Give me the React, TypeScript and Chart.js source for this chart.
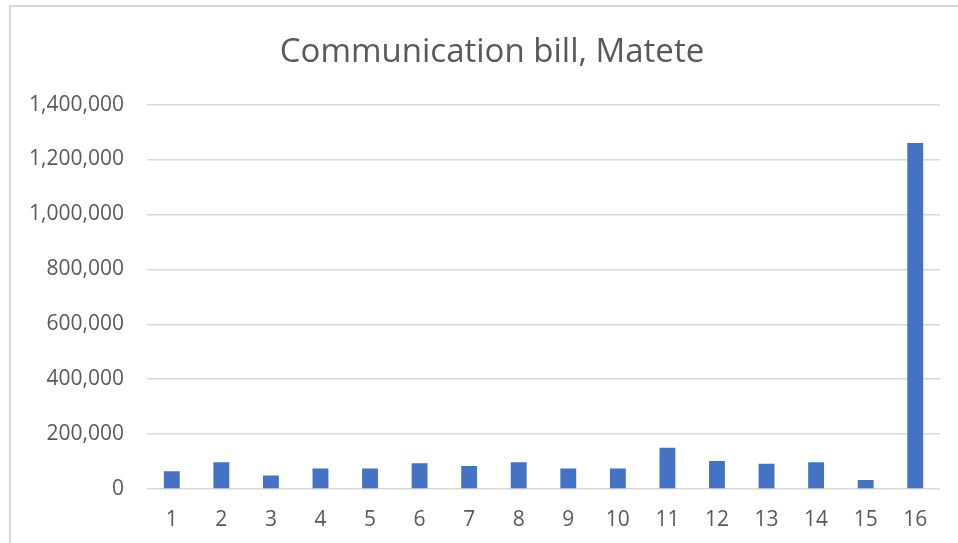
import React, { useEffect, useRef } from "react";
import { Chart, registerables } from "chart.js";

Chart.register(...registerables);

const categories: string[] = ["1", "2", "3", "4", "5", "6", "7", "8", "9", "10", "11", "12", "13", "14", "15", "16"];
const billValues: number[] = [65000, 97000, 49000, 75000, 75000, 94000, 84000, 97000, 75000, 75000, 150000, 102000, 92000, 97000, 33000, 1260000];
const chartTitle = "Communication bill, Matete";

const FONT = "'Open Sans', 'Noto Sans', sans-serif";
const TEXT = "#595959";
const GRID = "#d9d9d9";

const framePlugin = {
  id: "frame",
  afterLayout(chart: any) {
    const t = chart.titleBlock;
    if (t) {
      t.left = 44;
      t.width = t.right - t.left;
    }
  },
  beforeDraw(chart: any) {
    const ctx = chart.ctx;
    ctx.save();
    ctx.fillStyle = "#ffffff";
    ctx.fillRect(0, 0, chart.width, chart.height);
    ctx.strokeStyle = GRID;
    ctx.lineWidth = 2;
    ctx.beginPath();
    ctx.moveTo(10, chart.height + 5);
    ctx.lineTo(10, 6);
    ctx.lineTo(chart.width + 5, 6);
    ctx.stroke();
    ctx.restore();
  },
};

export default function App() {
  const ref = useRef<HTMLCanvasElement | null>(null);

  useEffect(() => {
    if (!ref.current) return;
    const chart = new Chart(ref.current, {
      type: "bar",
      data: {
        labels: categories,
        datasets: [
          {
            data: billValues,
            backgroundColor: "#4472C4",
            borderWidth: 0,
            barPercentage: 0.32,
            categoryPercentage: 1,
          },
        ],
      },
      plugins: [framePlugin],
      options: {
        responsive: false,
        animation: false,
        layout: { padding: { left: 10, right: 18, top: 0, bottom: 0 } },
        plugins: {
          legend: { display: false },
          tooltip: { enabled: false },
          title: {
            display: true,
            text: chartTitle,
            color: TEXT,
            font: { family: FONT, size: 33, weight: "normal" },
            padding: { top: 33, bottom: 32 },
          },
        },
        scales: {
          x: {
            grid: { display: false, drawTicks: false },
            border: { display: false },
            ticks: {
              color: TEXT,
              font: { family: FONT, size: 21 },
              padding: 18,
              maxRotation: 0,
            },
            afterFit: (scale: any) => {
              scale.height = 54;
            },
          },
          y: {
            min: 0,
            max: 1400000,
            grid: { color: GRID, lineWidth: 1.5, drawTicks: false },
            border: { display: false },
            ticks: {
              stepSize: 200000,
              color: TEXT,
              font: { family: FONT, size: 21 },
              padding: 23,
              callback: (v: any) => Number(v).toLocaleString("en-US"),
            },
            afterFit: (scale: any) => {
              scale.width = 137;
            },
          },
        },
      },
    });
    return () => chart.destroy();
  }, []);

  return (
    <div style={{ position: "fixed", left: 0, top: 0, width: 958, height: 543 }}>
      <canvas ref={ref} width={958} height={543} style={{ display: "block" }} />
    </div>
  );
}
